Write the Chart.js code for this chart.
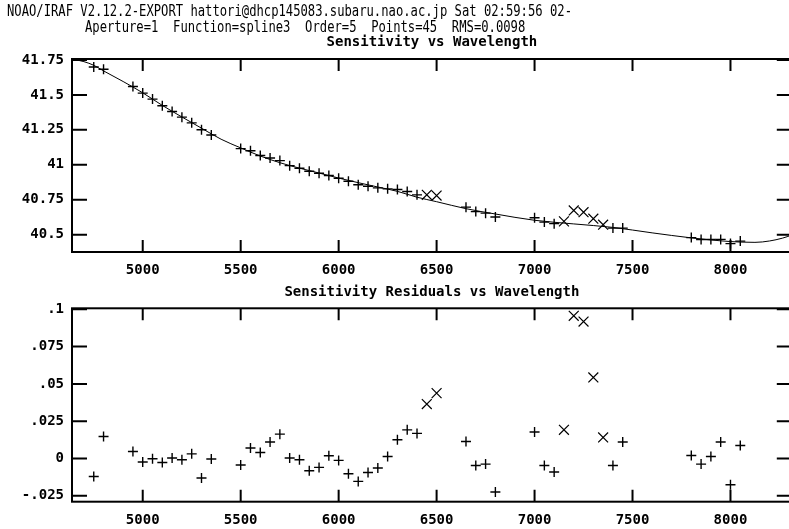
<!DOCTYPE html>
<html><head><meta charset="utf-8">
<script src="https://cdn.jsdelivr.net/npm/chart.js@4.4.1/dist/chart.umd.min.js"></script>
<style>
html,body{margin:0;padding:0;overflow:hidden;background:#fff;width:789px;height:529px;}
#top{position:absolute;left:0;top:0;}
#bot{position:absolute;left:0;top:280px;}
</style></head><body>
<canvas id="top" width="800" height="280"></canvas>
<canvas id="bot" width="800" height="249"></canvas>
<script>
// ---------- text ----------
const headerLine1 = "NOAO/IRAF V2.12.2-EXPORT hattori@dhcp145083.subaru.nao.ac.jp Sat 02:59:56 02-";
const headerLine2 = "Aperture=1  Function=spline3  Order=5  Points=45  RMS=0.0098";
const topTitle = "Sensitivity vs Wavelength";
const bottomTitle = "Sensitivity Residuals vs Wavelength";

// ---------- ticks ----------
const xTickValues = [5000, 5500, 6000, 6500, 7000, 7500, 8000];
const xTickLabels = ["5000", "5500", "6000", "6500", "7000", "7500", "8000"];
const sensTickValues = [40.5, 40.75, 41, 41.25, 41.5, 41.75];
const sensTickLabels = ["40.5", "40.75", "41", "41.25", "41.5", "41.75"];
const residTickValues = [-0.025, 0, 0.025, 0.05, 0.075, 0.1];
const residTickLabels = ["-.025", "0", ".025", ".05", ".075", ".1"];

// ---------- data: fitted points ----------
const pointWave = [4750, 4800, 4950, 5000, 5050, 5100, 5150, 5200, 5250, 5300, 5350,
  5500, 5550, 5600, 5650, 5700, 5750, 5800, 5850, 5900, 5950, 6000, 6050, 6100, 6150, 6200, 6250, 6300, 6350, 6400,
  6650, 6700, 6750, 6800, 7000, 7050, 7100, 7400, 7450,
  7800, 7850, 7900, 7950, 8000, 8050];
const pointSens = [41.700, 41.684, 41.560, 41.513, 41.470, 41.422, 41.381, 41.341, 41.300, 41.251, 41.213,
  41.116, 41.101, 41.066, 41.049, 41.030, 40.994, 40.975, 40.954, 40.939, 40.923, 40.904, 40.882, 40.857, 40.847, 40.835, 40.828, 40.823, 40.809, 40.785,
  40.697, 40.665, 40.654, 40.626, 40.621, 40.590, 40.579, 40.547, 40.547,
  40.479, 40.465, 40.465, 40.466, 40.436, 40.454];
const pointResid = [-0.0121, 0.0147, 0.0047, -0.0024, -0.0002, -0.0027, 0.0003, -0.0009, 0.0031, -0.0131, -0.0004,
  -0.0044, 0.0070, 0.0040, 0.0110, 0.0163, 0.0003, -0.0009, -0.0082, -0.0060, 0.0018, -0.0013, -0.0103, -0.0154, -0.0094, -0.0064, 0.0013, 0.0125, 0.0192, 0.0168,
  0.0114, -0.0047, -0.0038, -0.0225, 0.0177, -0.0047, -0.0091, -0.0047, 0.0110,
  0.0020, -0.0038, 0.0013, 0.0110, -0.0176, 0.0087];

// ---------- data: deleted points ----------
const deletedWave = [6450, 6500, 7150, 7200, 7250, 7300, 7350];
const deletedSens = [40.785, 40.780, 40.595, 40.673, 40.661, 40.614, 40.571];
const deletedResid = [0.0365, 0.0438, 0.0192, 0.0957, 0.0918, 0.0543, 0.0141];

// ---------- data: fitted curve ----------
const fitWave = [4639, 4700, 4750, 4800, 4900, 5000, 5100, 5200, 5300, 5400, 5500, 5600, 5700, 5800, 5900, 6000,
  6100, 6200, 6300, 6400, 6500, 6650, 6800, 7000, 7200, 7400, 7600, 7800, 7950, 8050, 8125, 8200, 8265, 8313];
const fitSens = [41.757, 41.738, 41.712, 41.672, 41.596, 41.515, 41.425, 41.342, 41.262, 41.183, 41.121, 41.063, 41.015, 40.976, 40.941, 40.905,
  40.872, 40.841, 40.810, 40.768, 40.736, 40.686, 40.648, 40.603, 40.577, 40.552, 40.513, 40.477, 40.456, 40.447, 40.445, 40.455, 40.475, 40.497];

const MONO = '"DejaVu Sans Mono", "Liberation Mono", monospace';
const pairs = (xs, ys) => xs.map((x, i) => ({x: x, y: ys[i]}));

const frameTicks = {
  id: 'frameTicks',
  afterDraw(chart) {
    const {ctx, chartArea: a, scales} = chart;
    ctx.save();
    ctx.strokeStyle = '#000';
    ctx.lineWidth = 2;
    ctx.strokeRect(a.left, a.top, a.right - a.left, a.bottom - a.top);
    ctx.beginPath();
    scales.x.ticks.forEach(t => {
      const px = scales.x.getPixelForValue(t.value);
      ctx.moveTo(px, a.bottom); ctx.lineTo(px, a.bottom - 12);
      ctx.moveTo(px, a.top); ctx.lineTo(px, a.top + 12);
    });
    scales.y.ticks.forEach(t => {
      const py = scales.y.getPixelForValue(t.value);
      ctx.moveTo(a.left, py); ctx.lineTo(a.left + 15, py);
      ctx.moveTo(a.right, py); ctx.lineTo(a.right - 15, py);
    });
    ctx.stroke();
    ctx.restore();
  }
};

function drawTallText(ctx, text, x, y, size) {
  ctx.save();
  ctx.fillStyle = '#000';
  ctx.textBaseline = 'middle';
  ctx.textAlign = 'left';
  ctx.font = size + 'px ' + MONO;
  ctx.translate(x, y);
  ctx.scale(1, 1.3);
  ctx.fillText(text, 0, 0);
  ctx.restore();
}
const headerText = {
  id: 'headerText',
  afterDraw(chart) {
    drawTallText(chart.ctx, headerLine1, 7, 12, 12.2);
    drawTallText(chart.ctx, headerLine2, 85, 28, 12.2);
  }
};

function xScale(h) {
  return {
    type: 'linear', min: 4639, max: 8313,
    grid: {display: false, drawTicks: false},
    border: {display: false},
    afterBuildTicks: s => { s.ticks = xTickValues.map(v => ({value: v})); },
    afterFit: s => { s.height = h; },
    ticks: {
      autoSkip: false, maxRotation: 0, padding: 10, color: '#000',
      font: {family: MONO, size: 14, weight: 'bold'},
      callback: (v, i) => xTickLabels[i]
    }
  };
}
function yScale(min, max, vals, labels) {
  return {
    type: 'linear', min: min, max: max,
    grid: {display: false, drawTicks: false},
    border: {display: false},
    afterBuildTicks: s => { s.ticks = vals.map(v => ({value: v})); },
    afterFit: s => { s.width = 72; },
    ticks: {
      autoSkip: false, padding: 8, color: '#000',
      font: {family: MONO, size: 14, weight: 'bold'},
      callback: (v, i) => labels[i]
    }
  };
}
const plusStyle = {pointStyle: 'cross', pointRadius: 5, borderColor: '#000', backgroundColor: '#000', borderWidth: 1.4, showLine: false};
const xStyle = {pointStyle: 'crossRot', pointRadius: 7, borderColor: '#000', backgroundColor: '#000', borderWidth: 1.2, showLine: false};

new Chart(document.getElementById('top'), {
  type: 'scatter',
  data: {datasets: [
    {label: 'fit', data: pairs(fitWave, fitSens), showLine: true, pointRadius: 0, borderColor: '#000', borderWidth: 1, cubicInterpolationMode: 'monotone'},
    Object.assign({label: 'points', data: pairs(pointWave, pointSens)}, plusStyle),
    Object.assign({label: 'deleted', data: pairs(deletedWave, deletedSens)}, xStyle)
  ]},
  options: {
    responsive: false, animation: false, devicePixelRatio: 1,
    layout: {padding: {left: 0, right: 3, top: 0, bottom: 0}},
    plugins: {
      legend: {display: false}, tooltip: {enabled: false},
      title: {display: true, text: topTitle, fullSize: false, align: 'center', color: '#000',
        font: {family: MONO, size: 14, weight: 'bold'}, padding: {top: 34, bottom: 8.2}}
    },
    scales: {x: xScale(28), y: yScale(40.376, 41.757, sensTickValues, sensTickLabels)}
  },
  plugins: [frameTicks, headerText]
});

new Chart(document.getElementById('bot'), {
  type: 'scatter',
  data: {datasets: [
    Object.assign({label: 'points', data: pairs(pointWave, pointResid)}, plusStyle),
    Object.assign({label: 'deleted', data: pairs(deletedWave, deletedResid)}, xStyle)
  ]},
  options: {
    responsive: false, animation: false, devicePixelRatio: 1,
    layout: {padding: {left: 0, right: 3, top: 0, bottom: 0}},
    plugins: {
      legend: {display: false}, tooltip: {enabled: false},
      title: {display: true, text: bottomTitle, fullSize: false, align: 'center', color: '#000',
        font: {family: MONO, size: 14, weight: 'bold'}, padding: {top: 3.6, bottom: 7.9}}
    },
    scales: {x: xScale(27.3), y: yScale(-0.029, 0.1007, residTickValues, residTickLabels)}
  },
  plugins: [frameTicks]
});
</script>
</body></html>
